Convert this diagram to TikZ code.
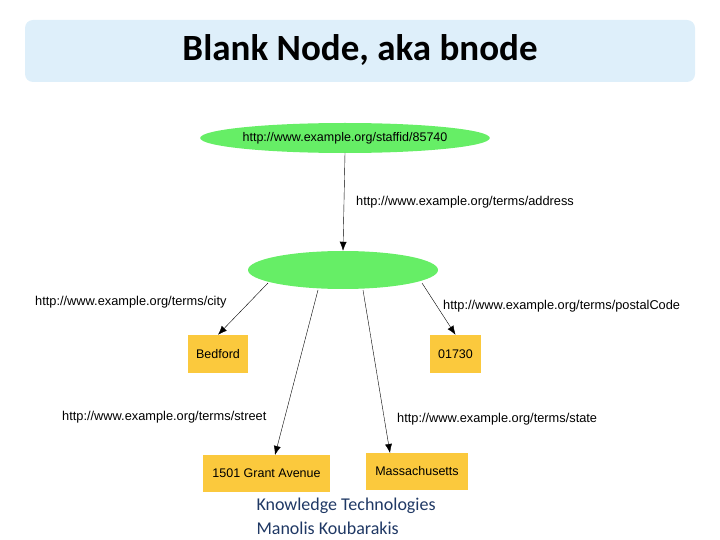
\documentclass[tikz,border=0pt]{standalone}
\usepackage{fontspec}
\setmainfont{Liberation Sans}
\newfontfamily\calib{Carlito}
\usetikzlibrary{shapes.geometric,arrows.meta}
\definecolor{titlebg}{HTML}{DEEFFA}
\definecolor{bgreen}{HTML}{66EE66}
\definecolor{lit}{HTML}{FBC93D}
\definecolor{foot}{HTML}{1F3864}
\tikzset{
  res/.style={ellipse,fill=bgreen,inner sep=0pt,font=\fontsize{12.5}{14}\selectfont},
  litbox/.style={rectangle,fill=lit,inner sep=0pt,font=\fontsize{12.5}{14}\selectfont},
  prop/.style={font=\fontsize{12.8}{14}\selectfont,inner sep=0pt},
  edge/.style={-{Latex[length=9pt,width=7pt]},thin}
}
\begin{document}
\begin{tikzpicture}[x=1pt,y=-1pt]
\useasboundingbox (0,0) rectangle (720,540);
\fill[titlebg,rounded corners=8pt] (25,20) rectangle (695,82);
\node[font=\calib\bfseries\fontsize{37}{40}\selectfont] (title) at (360,50) {Blank Node, aka bnode};

\node[foot,font=\calib\fontsize{18}{20}\selectfont,anchor=west] (k) at (253,506) {Knowledge Technologies};
\node[foot,font=\calib\fontsize{18}{20}\selectfont,anchor=west] (m) at (253,528) {Manolis Koubarakis};

\node[res,minimum width=240pt,minimum height=30pt] (staff) at (345,138) {http://www.example.org/staffid/85740};
\node[res,minimum width=190pt,minimum height=38pt] (b) at (343,270) {};

\node[litbox,minimum width=60pt,minimum height=38pt] (bed) at (218,354) {Bedford};
\node[litbox,minimum width=51pt,minimum height=38pt] (zip) at (455.5,354) {01730};
\node[litbox,minimum width=127pt,minimum height=37pt] (street) at (266.5,473.5) {1501 Grant Avenue};
\node[litbox,minimum width=102pt,minimum height=37pt] (state) at (417,471.5) {Massachusetts};

\coordinate (s1) at (345,153);
\coordinate (c1) at (268,283);
\coordinate (p1) at (422,283);
\coordinate (t1) at (318,290);
\coordinate (u1) at (363,290);
\draw[edge] (s1) -- (b.north);
\draw[edge] (c1) -- (bed.north);
\draw[edge] (p1) -- (zip.north);
\draw[edge] (t1) -- (275,455);
\draw[edge] (u1) -- (390,453);

\node[prop,anchor=west] (la) at (356,202) {http://www.example.org/terms/address};
\node[prop,anchor=west] (lc) at (35,302) {http://www.example.org/terms/city};
\node[prop,anchor=west] (lp) at (443,306) {http://www.example.org/terms/postalCode};
\node[prop,anchor=west] (ls) at (62,417) {http://www.example.org/terms/street};
\node[prop,anchor=west] (lt) at (397,419) {http://www.example.org/terms/state};
\end{tikzpicture}
\end{document}
